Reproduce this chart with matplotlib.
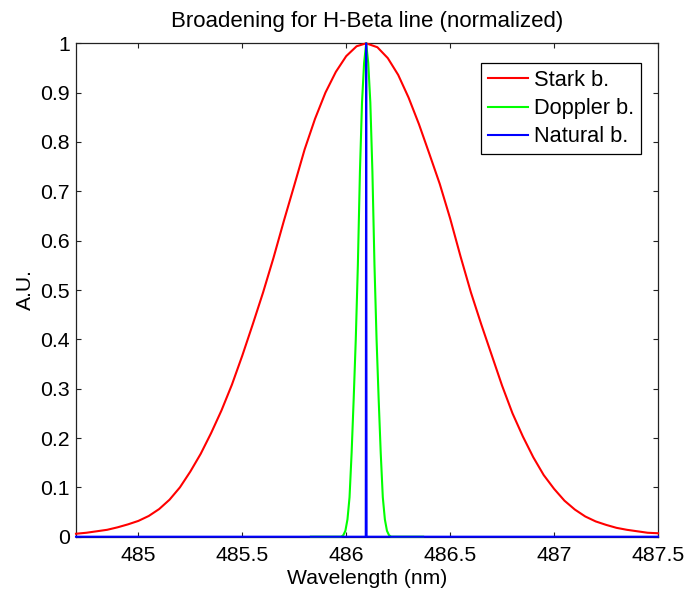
import matplotlib
matplotlib.use("Agg")
import matplotlib.pyplot as plt

# ---- data ----
stark_x = [484.70, 484.75, 484.80, 484.85, 484.90, 484.95, 485.00, 485.05, 485.10,
           485.15, 485.20, 485.25, 485.30, 485.35, 485.40, 485.45, 485.50, 485.55,
           485.60, 485.65, 485.70, 485.75, 485.80, 485.85, 485.90, 485.95, 486.00,
           486.05, 486.096, 486.15, 486.20, 486.25, 486.30, 486.35, 486.40, 486.45,
           486.50, 486.55, 486.60, 486.65, 486.70, 486.75, 486.80, 486.85, 486.90,
           486.95, 487.00, 487.05, 487.10, 487.15, 487.20, 487.25, 487.30, 487.35,
           487.40, 487.45, 487.50]
stark_y = [0.006, 0.008, 0.011, 0.014, 0.019, 0.025, 0.032, 0.042, 0.056,
           0.075, 0.100, 0.132, 0.168, 0.210, 0.256, 0.308, 0.367, 0.430,
           0.495, 0.565, 0.640, 0.712, 0.785, 0.847, 0.900, 0.942, 0.974,
           0.994, 1.000, 0.992, 0.970, 0.936, 0.890, 0.836, 0.776, 0.715,
           0.645, 0.568, 0.495, 0.430, 0.368, 0.306, 0.250, 0.203, 0.161,
           0.125, 0.097, 0.073, 0.055, 0.041, 0.031, 0.024, 0.018, 0.014,
           0.011, 0.008, 0.007]

doppler_x = [485.830, 485.976, 485.986, 485.996, 486.006, 486.016, 486.026, 486.036,
             486.046, 486.056, 486.066, 486.076, 486.086, 486.096, 486.106, 486.116,
             486.126, 486.136, 486.146, 486.156, 486.166, 486.176, 486.186, 486.196,
             486.206, 486.216, 486.370]
doppler_y = [0.0, 0.0, 0.003, 0.012, 0.035, 0.08, 0.17, 0.28,
             0.40, 0.55, 0.74, 0.88, 0.96, 1.0, 0.96, 0.88,
             0.74, 0.55, 0.40, 0.28, 0.17, 0.08, 0.035, 0.012,
             0.003, 0.0, 0.0]

natural_x = [484.700, 486.094, 486.096, 486.098, 487.500]
natural_y = [0.0, 0.0, 1.0, 0.0, 0.0]

series_labels = ["Stark b.", "Doppler b.", "Natural b."]
series_colors = ["#ff0000", "#00ff00", "#0000ff"]

x_ticks = [485, 485.5, 486, 486.5, 487, 487.5]
x_tick_labels = ["485", "485.5", "486", "486.5", "487", "487.5"]
y_ticks = [0, 0.1, 0.2, 0.3, 0.4, 0.5, 0.6, 0.7, 0.8, 0.9, 1.0]
y_tick_labels = ["0", "0.1", "0.2", "0.3", "0.4", "0.5", "0.6", "0.7", "0.8", "0.9", "1"]

title = "Broadening for H-Beta line (normalized)"
x_label = "Wavelength (nm)"
y_label = "A.U."

# ---- figure ----
plt.rcParams['font.family'] = ['Liberation Sans', 'DejaVu Sans']

fig = plt.figure(figsize=(6.86, 5.90), dpi=100, facecolor="white")
ax = fig.add_axes([76 / 686, 1 - 536.7 / 590, (658 - 76) / 686, (536.7 - 43.3) / 590])

lw = 1.5
ax.plot(stark_x, stark_y, color=series_colors[0], lw=lw, label=series_labels[0],
        clip_on=False, zorder=3)
ax.plot(doppler_x, doppler_y, color=series_colors[1], lw=lw, label=series_labels[1],
        clip_on=False, zorder=4)
ax.plot(natural_x, natural_y, color=series_colors[2], lw=lw, label=series_labels[2],
        clip_on=False, zorder=5)

ax.set_xlim(484.7, 487.5)
ax.set_ylim(0, 1)
ax.set_xticks(x_ticks)
ax.set_xticklabels(x_tick_labels)
ax.set_yticks(y_ticks)
ax.set_yticklabels(y_tick_labels)
ax.tick_params(direction="in", length=3.6, width=0.8, top=True, right=True,
               labelsize=15.3, colors="#222222", labelcolor="black")
ax.tick_params(axis="x", pad=7)
ax.tick_params(axis="y", pad=4.5)
for s in ax.spines.values():
    s.set_linewidth(0.9)
    s.set_color("#222222")

ax.set_title(title, fontsize=16, pad=12.0)
ax.set_xlabel(x_label, fontsize=15.2, labelpad=2.5)
ax.set_ylabel(y_label, fontsize=15.2, labelpad=4)

leg = ax.legend(loc="upper right", bbox_to_anchor=(641 / 686, 1 - 63 / 590),
                bbox_transform=fig.transFigure, borderaxespad=0,
                fontsize=15.7, frameon=True, fancybox=False, shadow=False,
                handlelength=1.85, handletextpad=0.25, borderpad=0.32,
                labelspacing=0.33)
leg.get_frame().set_edgecolor("black")
leg.get_frame().set_linewidth(0.9)
leg.get_frame().set_facecolor("white")
leg.get_frame().set_alpha(1)
leg.set_zorder(10)

fig.savefig("out.png", dpi=100, facecolor="white")
